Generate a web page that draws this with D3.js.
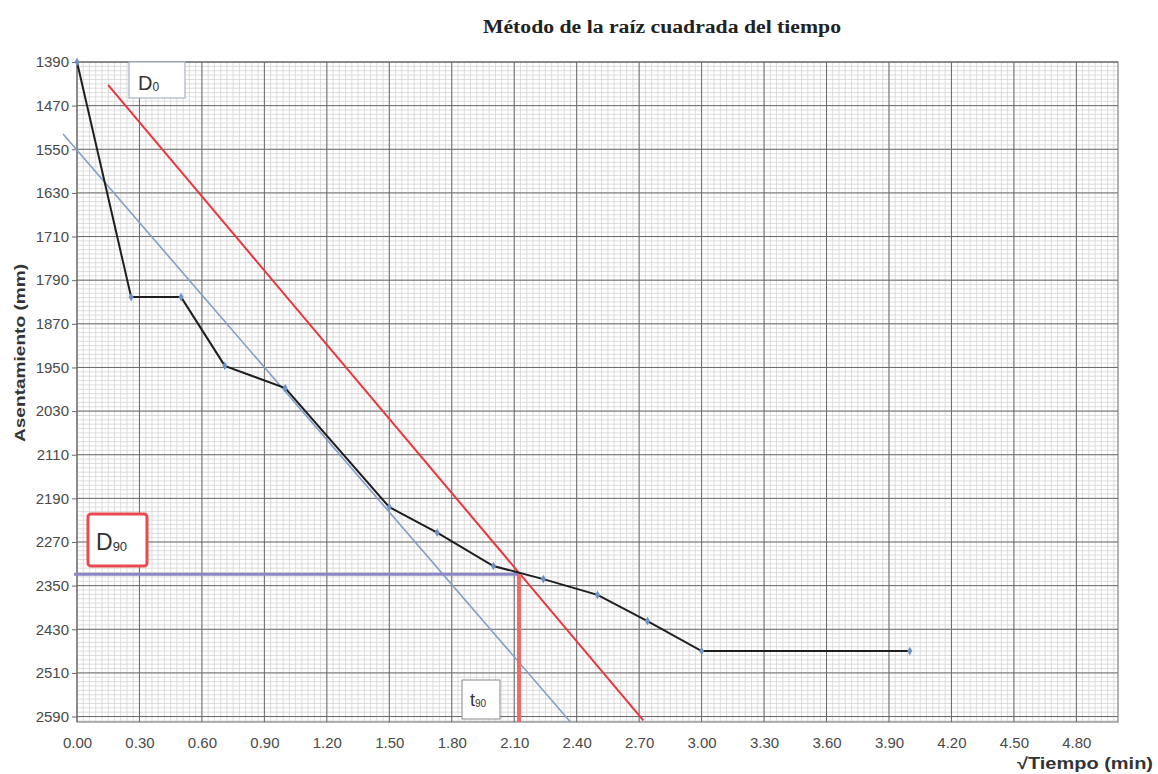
<!DOCTYPE html>
<html>
<head>
<meta charset="utf-8">
<script src="https://cdn.jsdelivr.net/npm/d3@7"></script>
<style>
  body { margin: 0; background: #fff; }
  svg { display: block; }
</style>
</head>
<body>
<div class="chart"></div>
<script>
// raiz del tiempo (min) vs asentamiento
var raizTiempo = [0, 0.26, 0.5, 0.71, 1.0, 1.5, 1.73, 2.0, 2.24, 2.5, 2.74, 3.0, 4.0];
var asentamiento = [1390, 1821, 1821, 1947, 1988, 2206, 2253, 2314, 2338, 2367, 2415, 2470, 2470];

// lineas de construccion dibujadas a mano sobre el grafico
var rectaAzul = [[-0.067, 1522], [2.37, 2600]];
var rectaRoja = [[0.149, 1432], [2.72, 2597]];
var puntoD90 = [2.123, 2329];

var xTicks = [0, 0.3, 0.6, 0.9, 1.2, 1.5, 1.8, 2.1, 2.4, 2.7, 3.0, 3.3, 3.6, 3.9, 4.2, 4.5, 4.8];
var yTicks = [1390, 1470, 1550, 1630, 1710, 1790, 1870, 1950, 2030, 2110, 2190, 2270, 2350, 2430, 2510, 2590];

var width = 1158,
    height = 774;

var svg = d3.select('.chart')
    .append('svg')
    .attr('width', width)
    .attr('height', height);

// plot area (note: "top" is a reserved window global, so use other names)
var pLeft = 77, pRight = 1118, pTop = 62, pBottom = 722;

var x = d3.scaleLinear().domain([0, 5]).range([pLeft, pRight]);
var y = d3.scaleLinear().domain([1390, 2600]).range([pTop, pBottom]);

// minor grid
var xMinor = d3.range(0, 167).map(function(i) { return i * 0.03; });
var yMinor = d3.range(0, 152).map(function(i) { return 1390 + i * 8; });

var grid = svg.append('g');
grid.selectAll('line.xm').data(xMinor).enter().append('line')
    .attr('x1', function(d) { return x(d); }).attr('x2', function(d) { return x(d); })
    .attr('y1', pTop).attr('y2', pBottom)
    .attr('stroke', '#d4d4d4').attr('stroke-width', 0.8);
grid.selectAll('line.ym').data(yMinor).enter().append('line')
    .attr('y1', function(d) { return y(d); }).attr('y2', function(d) { return y(d); })
    .attr('x1', pLeft).attr('x2', pRight)
    .attr('stroke', '#d4d4d4').attr('stroke-width', 0.8);

// major grid
grid.selectAll('line.xM').data(xTicks).enter().append('line')
    .attr('x1', function(d) { return x(d); }).attr('x2', function(d) { return x(d); })
    .attr('y1', pTop).attr('y2', pBottom)
    .attr('stroke', '#6a6a6a').attr('stroke-width', 1);
grid.selectAll('line.yM').data(yTicks).enter().append('line')
    .attr('y1', function(d) { return y(d); }).attr('y2', function(d) { return y(d); })
    .attr('x1', pLeft).attr('x2', pRight)
    .attr('stroke', '#6a6a6a').attr('stroke-width', 1);

// plot border
svg.append('rect')
    .attr('x', pLeft).attr('y', pTop)
    .attr('width', pRight - pLeft).attr('height', pBottom - pTop)
    .attr('fill', 'none').attr('stroke', '#6a6a6a');

// axes
var yAxis = svg.append('g')
    .attr('transform', 'translate(' + pLeft + ',0)')
    .call(d3.axisLeft(y).tickValues(yTicks).tickSize(5).tickPadding(3).tickFormat(d3.format('d')));
var xAxis = svg.append('g')
    .attr('transform', 'translate(0,' + pBottom + ')')
    .call(d3.axisBottom(x).tickValues(xTicks).tickSize(0).tickPadding(15).tickFormat(d3.format('.2f')));

[yAxis, xAxis].forEach(function(ax) {
    ax.select('.domain').remove();
    ax.selectAll('line').attr('stroke', '#6a6a6a');
    ax.selectAll('text')
        .attr('font-family', 'Liberation Sans, Arial, sans-serif')
        .attr('font-size', 15)
        .attr('fill', '#4a4a4a');
});

// construction lines
var line = d3.line().x(function(d) { return x(d[0]); }).y(function(d) { return y(d[1]); });

svg.append('path').datum(rectaAzul)
    .attr('d', line).attr('fill', 'none')
    .attr('stroke', '#7f9fc8').attr('stroke-width', 1.6);

svg.append('path').datum(rectaRoja)
    .attr('d', line).attr('fill', 'none')
    .attr('stroke', '#e8363c').attr('stroke-width', 2);

// D90 horizontal and t90 vertical
svg.append('line')
    .attr('x1', x(0) - 3).attr('x2', x(puntoD90[0]))
    .attr('y1', y(puntoD90[1])).attr('y2', y(puntoD90[1]))
    .attr('stroke', '#8b87c4').attr('stroke-width', 3);
svg.append('line')
    .attr('x1', x(puntoD90[0])).attr('x2', x(puntoD90[0]))
    .attr('y1', y(puntoD90[1])).attr('y2', pBottom)
    .attr('stroke', '#f06a6a').attr('stroke-width', 4);

// data series
var datos = raizTiempo.map(function(d, i) { return [d, asentamiento[i]]; });

svg.append('path').datum(datos)
    .attr('d', line).attr('fill', 'none')
    .attr('stroke', '#1e1e1e').attr('stroke-width', 2);

svg.selectAll('path.pt').data(datos).enter().append('path')
    .attr('class', 'pt')
    .attr('transform', function(d) { return 'translate(' + x(d[0]) + ',' + y(d[1]) + ')'; })
    .attr('d', d3.symbol().type(d3.symbolDiamond).size(22))
    .attr('fill', '#6f93c4');

// label boxes
function caja(bx, by, bw, bh, stroke, sw, main, sub, fs, subfs, tx, ty) {
    svg.append('rect')
        .attr('x', bx).attr('y', by).attr('width', bw).attr('height', bh)
        .attr('rx', sw > 2 ? 3 : 0)
        .attr('fill', '#fff').attr('stroke', stroke).attr('stroke-width', sw);
    var t = svg.append('text')
        .attr('x', tx).attr('y', ty)
        .attr('font-family', 'Liberation Sans, Arial, sans-serif')
        .attr('fill', '#333');
    t.append('tspan').attr('font-size', fs).text(main);
    t.append('tspan').attr('font-size', subfs).attr('dy', 1).text(sub);
}

caja(129, 62, 56, 36, '#a9b4c2', 1.2, 'D', '0', 20, 12, 138, 90);
caja(88, 514, 59, 52, '#e84a50', 3, 'D', '90', 23, 13, 96, 550);
caja(462, 680, 38, 39, '#8a8a8a', 1, 't', '90', 18, 10, 470, 706);

// titles
svg.append('text')
    .attr('x', 662).attr('y', 33)
    .attr('text-anchor', 'middle')
    .attr('font-family', 'Liberation Serif, Times New Roman, serif')
    .attr('font-weight', 'bold')
    .attr('font-size', 18)
    .attr('textLength', 358).attr('lengthAdjust', 'spacingAndGlyphs')
    .attr('fill', '#222')
    .text('Método de la raíz cuadrada del tiempo');

svg.append('text')
    .attr('transform', 'translate(25,353) rotate(-90)')
    .attr('text-anchor', 'middle')
    .attr('font-family', 'Liberation Sans, Arial, sans-serif')
    .attr('font-weight', 'bold')
    .attr('font-size', 15)
    .attr('textLength', 178).attr('lengthAdjust', 'spacingAndGlyphs')
    .attr('fill', '#333')
    .text('Asentamiento (mm)');

svg.append('text')
    .attr('x', 1153).attr('y', 769)
    .attr('text-anchor', 'end')
    .attr('font-family', 'Liberation Sans, Arial, sans-serif')
    .attr('font-weight', 'bold')
    .attr('font-size', 16)
    .attr('textLength', 136).attr('lengthAdjust', 'spacingAndGlyphs')
    .attr('fill', '#333')
    .text('√Tiempo (min)');
</script>
</body>
</html>
